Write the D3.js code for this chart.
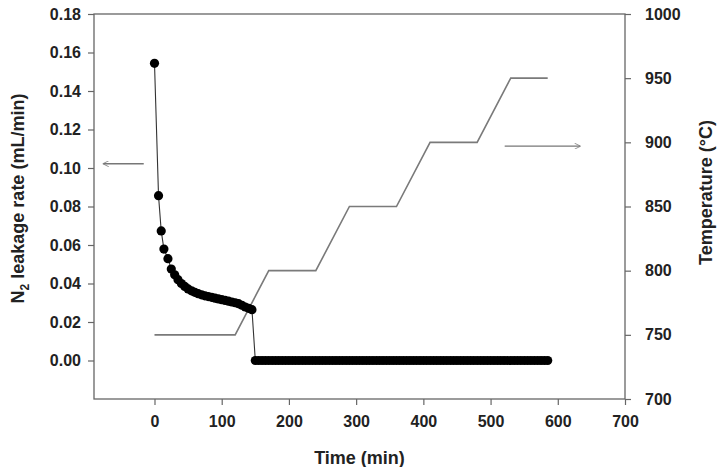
<!DOCTYPE html>
<html>
<head>
<meta charset="utf-8">
<script src="https://cdn.jsdelivr.net/npm/d3@7"></script>
<style>
  body { margin: 0; background: #fff; }
  svg { display: block; font-family: "Liberation Sans", Arial, sans-serif; }
</style>
</head>
<body>
<svg id="chart" width="721" height="467"></svg>
<script>
// ---- data ----
const leakTime = [0, 6, 10, 14, 20, 25, 30, 35, 40, 45, 50, 55, 60, 65, 70, 75, 80, 85, 90, 95,
  100, 105, 110, 115, 120, 125, 130, 135, 140, 145,
  150, 155, 160, 165, 170, 175, 180, 185, 190, 195,
  200, 205, 210, 215, 220, 225, 230, 235, 240, 245,
  250, 255, 260, 265, 270, 275, 280, 285, 290, 295,
  300, 305, 310, 315, 320, 325, 330, 335, 340, 345,
  350, 355, 360, 365, 370, 375, 380, 385, 390, 395,
  400, 405, 410, 415, 420, 425, 430, 435, 440, 445,
  450, 455, 460, 465, 470, 475, 480, 485, 490, 495,
  500, 505, 510, 515, 520, 525, 530, 535, 540, 545,
  550, 555, 560, 565, 570, 575, 580, 585];
const leakRate = [0.1544, 0.0856, 0.0673, 0.0579, 0.0529, 0.0475, 0.0445, 0.0420, 0.0400, 0.0385,
  0.0372, 0.0362, 0.0354, 0.0347, 0.0341, 0.0336, 0.0332, 0.0328, 0.0324, 0.0320,
  0.0316, 0.0312, 0.0308, 0.0304, 0.0300, 0.0295, 0.0287, 0.0278, 0.0271, 0.0264,
  0, 0, 0, 0, 0, 0, 0, 0, 0, 0,
  0, 0, 0, 0, 0, 0, 0, 0, 0, 0,
  0, 0, 0, 0, 0, 0, 0, 0, 0, 0,
  0, 0, 0, 0, 0, 0, 0, 0, 0, 0,
  0, 0, 0, 0, 0, 0, 0, 0, 0, 0,
  0, 0, 0, 0, 0, 0, 0, 0, 0, 0,
  0, 0, 0, 0, 0, 0, 0, 0, 0, 0,
  0, 0, 0, 0, 0, 0, 0, 0, 0, 0,
  0, 0, 0, 0, 0, 0, 0, 0];
const tempTime = [0, 120, 170, 240, 290, 360, 410, 480, 530, 585];
const tempValue = [750, 750, 800, 800, 850, 850, 900, 900, 950, 950];

const xTicks = [0, 100, 200, 300, 400, 500, 600, 700];
const yLeftTicks = [0, 0.02, 0.04, 0.06, 0.08, 0.10, 0.12, 0.14, 0.16, 0.18];
const yRightTicks = [700, 750, 800, 850, 900, 950, 1000];
const xDomain = [-90, 700];
const yLeftDomain = [-0.02, 0.18];
const yRightDomain = [700, 1000];

// arrow annotations (in data units): [x1, x2, y]
const leftArrow = [-16, -76, 0.1022];
const rightArrow = [521, 633, 897];

const xTitle = "Time (min)";
const yRightTitle = "Temperature (°C)";

// ---- layout ----
const svg = d3.select("#chart");
const W = 721, H = 467;
const m = { left: 94, right: 96, top: 14, bottom: 68 };
const x0 = m.left, x1 = W - m.right, y0 = m.top, y1 = H - m.bottom;

const x = d3.scaleLinear().domain(xDomain).range([x0, x1]);
const yL = d3.scaleLinear().domain(yLeftDomain).range([y1, y0]);
const yR = d3.scaleLinear().domain(yRightDomain).range([y1, y0]);

const axisColor = "#666";
const textColor = "#222";
const tickFont = 16;
const titleFont = 18;

// frame
svg.append("rect").attr("x", x0).attr("y", y0).attr("width", x1 - x0).attr("height", y1 - y0)
  .attr("fill", "none").attr("stroke", axisColor).attr("stroke-width", 1.3);

function styleAxis(g) {
  g.select(".domain").remove();
  g.selectAll(".tick line").attr("stroke", axisColor).attr("stroke-width", 1.2);
  g.selectAll(".tick text").attr("fill", textColor).attr("font-size", tickFont).attr("font-weight", "bold");
}

svg.append("g").attr("transform", `translate(0,${y1})`)
  .call(d3.axisBottom(x).tickValues(xTicks).tickFormat(d3.format("d")).tickSize(6).tickPadding(11))
  .call(styleAxis);

svg.append("g").attr("transform", `translate(${x0},0)`)
  .call(d3.axisLeft(yL).tickValues(yLeftTicks).tickFormat(d3.format(".2f")).tickSize(6).tickPadding(7))
  .call(styleAxis);

svg.append("g").attr("transform", `translate(${x1},0)`)
  .call(d3.axisRight(yR).tickValues(yRightTicks).tickFormat(d3.format("d")).tickSize(6).tickPadding(14))
  .call(styleAxis);

// titles
svg.append("text").attr("x", (x0 + x1) / 2).attr("y", 464).attr("text-anchor", "middle")
  .attr("font-size", titleFont).attr("font-weight", "bold").attr("fill", textColor).text(xTitle);

const lt = svg.append("text").attr("transform", `translate(24,${(y0 + y1) / 2 - 8}) rotate(-90)`)
  .attr("text-anchor", "middle").attr("font-size", titleFont).attr("font-weight", "bold").attr("fill", textColor);
lt.append("tspan").text("N");
lt.append("tspan").attr("font-size", 12).attr("dy", 5).text("2");
lt.append("tspan").attr("dy", -5).text(" leakage rate (mL/min)");

svg.append("text").attr("transform", `translate(712,${(y0 + y1) / 2 - 14}) rotate(-90)`)
  .attr("text-anchor", "middle").attr("font-size", titleFont).attr("font-weight", "bold").attr("fill", textColor)
  .text(yRightTitle);

// temperature line
const tempData = tempTime.map((t, i) => [t, tempValue[i]]);
svg.append("path").datum(tempData)
  .attr("d", d3.line().x(d => x(d[0])).y(d => yR(d[1])))
  .attr("fill", "none").attr("stroke", "#7a7a7a").attr("stroke-width", 1.6);

// leakage line + dots
const leakData = leakTime.map((t, i) => [t, leakRate[i]]);
svg.append("path").datum(leakData)
  .attr("d", d3.line().x(d => x(d[0])).y(d => yL(d[1])))
  .attr("fill", "none").attr("stroke", "#333").attr("stroke-width", 1.1);
svg.append("g").selectAll("circle").data(leakData).join("circle")
  .attr("cx", d => x(d[0])).attr("cy", d => yL(d[1])).attr("r", 4.6).attr("fill", "#000");

// arrows
const defs = svg.append("defs");
defs.append("marker").attr("id", "ah").attr("viewBox", "0 0 10 10").attr("refX", 9).attr("refY", 5)
  .attr("markerWidth", 9).attr("markerHeight", 6).attr("markerUnits", "userSpaceOnUse")
  .attr("orient", "auto")
  .append("path").attr("d", "M0,0 L10,5 L0,10").attr("fill", "none").attr("stroke", "#777").attr("stroke-width", 1.3);

svg.append("line").attr("x1", x(leftArrow[0])).attr("x2", x(leftArrow[1]))
  .attr("y1", yL(leftArrow[2])).attr("y2", yL(leftArrow[2]))
  .attr("stroke", "#777").attr("stroke-width", 1.3).attr("marker-end", "url(#ah)");
svg.append("line").attr("x1", x(rightArrow[0])).attr("x2", x(rightArrow[1]))
  .attr("y1", yR(rightArrow[2])).attr("y2", yR(rightArrow[2]))
  .attr("stroke", "#777").attr("stroke-width", 1.3).attr("marker-end", "url(#ah)");
</script>
</body>
</html>
